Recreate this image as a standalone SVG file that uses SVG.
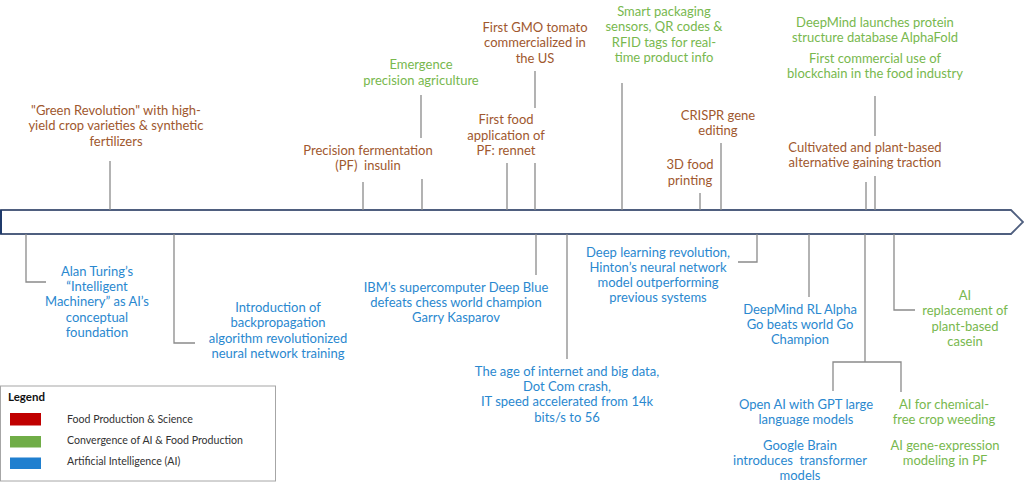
<svg xmlns="http://www.w3.org/2000/svg" width="1024" height="492" viewBox="0 0 1024 492">
<style>
text{font-family:Lato,"Liberation Sans",sans-serif;font-size:13px;text-anchor:middle}
.f{fill:#a0582e}
.c{fill:#78b84e}
.a{fill:#2a88cf}
.pre{white-space:pre}
.ln{fill:none;stroke:#8a8a8a;stroke-width:1.3}
.lg{font-size:10.6px;fill:#333;text-anchor:start}
</style>
<rect width="1024" height="492" fill="#fff"/>
<g id="timeline">
<polygon points="1,210 1011,210 1023,222 1011,234 1,234" fill="#fff" stroke="#4f5f7f" stroke-width="1.8"/>
<line x1="1" y1="210" x2="1" y2="234" stroke="#1f3a6b" stroke-width="2"/>
</g>
<g id="connectors">
<path class="ln" d="M110 161V210"/>
<path class="ln" d="M363 182V210"/>
<path class="ln" d="M421 95V138M422 179V210"/>
<path class="ln" d="M507 163V210"/>
<path class="ln" d="M535 71V108M535 163V210"/>
<path class="ln" d="M622 83V210"/>
<path class="ln" d="M700 193V210"/>
<path class="ln" d="M721 143V210"/>
<path class="ln" d="M866 182V210"/>
<path class="ln" d="M875 96V136M875 176V210"/>
<path class="ln" d="M26 234V282H46"/>
<path class="ln" d="M174 234V343H195"/>
<path class="ln" d="M536 234V275"/>
<path class="ln" d="M567 234V359"/>
<path class="ln" d="M757 234V262H738"/>
<path class="ln" d="M809 234V297"/>
<path class="ln" d="M865 234V362M833 391V362H901V392"/>
<path class="ln" d="M894 234V310H915"/>
</g>
<g id="green-revolution"><text class="f"><tspan x="116" y="115">"Green Revolution" with high-</tspan><tspan x="116" y="130">yield crop varieties &amp; synthetic</tspan><tspan x="116" y="145.5">fertilizers</tspan></text></g>
<g id="pf-insulin"><text class="f pre"><tspan x="368" y="155">Precision fermentation</tspan><tspan x="368" y="170">(PF)  insulin</tspan></text></g>
<g id="precision-agriculture"><text class="c"><tspan x="421" y="69">Emergence</tspan><tspan x="421" y="84.5">precision agriculture</tspan></text></g>
<g id="rennet"><text class="f"><tspan x="506" y="124">First food</tspan><tspan x="506" y="139.5">application of</tspan><tspan x="506" y="155">PF: rennet</tspan></text></g>
<g id="gmo-tomato"><text class="f"><tspan x="535" y="32">First GMO tomato</tspan><tspan x="535" y="47">commercialized in</tspan><tspan x="535" y="63">the US</tspan></text></g>
<g id="smart-packaging"><text class="c"><tspan x="664" y="16">Smart packaging</tspan><tspan x="664" y="31">sensors, QR codes &amp;</tspan><tspan x="664" y="46.5">RFID tags for real-</tspan><tspan x="664" y="62">time product info</tspan></text></g>
<g id="printing"><text class="f"><tspan x="690" y="169">3D food</tspan><tspan x="690" y="184.5">printing</tspan></text></g>
<g id="crispr"><text class="f"><tspan x="718" y="120">CRISPR gene</tspan><tspan x="718" y="134.5">editing</tspan></text></g>
<g id="cultivated"><text class="f"><tspan x="865" y="151.5">Cultivated and plant-based</tspan><tspan x="865" y="167">alternative gaining traction</tspan></text></g>
<g id="alphafold"><text class="c"><tspan x="875" y="27">DeepMind launches protein</tspan><tspan x="875" y="42">structure database AlphaFold</tspan></text></g>
<g id="blockchain"><text class="c"><tspan x="875" y="63">First commercial use of</tspan><tspan x="875" y="78">blockchain in the food industry</tspan></text></g>
<g id="turing"><text class="a"><tspan x="97" y="275.5">Alan Turing’s</tspan><tspan x="97" y="290.5">“Intelligent</tspan><tspan x="97" y="306">Machinery” as AI’s</tspan><tspan x="97" y="321.5">conceptual</tspan><tspan x="97" y="336.5">foundation</tspan></text></g>
<g id="backprop"><text class="a"><tspan x="278" y="311.5">Introduction of</tspan><tspan x="278" y="327">backpropagation</tspan><tspan x="278" y="342.5">algorithm revolutionized</tspan><tspan x="278" y="358">neural network training</tspan></text></g>
<g id="deep-blue"><text class="a"><tspan x="456" y="292">IBM’s supercomputer Deep Blue</tspan><tspan x="456" y="306.5">defeats chess world champion</tspan><tspan x="456" y="322">Garry Kasparov</tspan></text></g>
<g id="internet"><text class="a"><tspan x="567" y="375.5">The age of internet and big data,</tspan><tspan x="567" y="390.5">Dot Com crash,</tspan><tspan x="567" y="406">IT speed accelerated from 14k</tspan><tspan x="567" y="421.5">bits/s to 56</tspan></text></g>
<g id="deep-learning"><text class="a"><tspan x="658" y="256.5">Deep learning revolution,</tspan><tspan x="658" y="271.5">Hinton’s neural network</tspan><tspan x="658" y="286.5">model outperforming</tspan><tspan x="658" y="302">previous systems</tspan></text></g>
<g id="alphago"><text class="a"><tspan x="800" y="313.5">DeepMind RL Alpha</tspan><tspan x="800" y="328.5">Go beats world Go</tspan><tspan x="800" y="343.5">Champion</tspan></text></g>
<g id="casein"><text class="c"><tspan x="965" y="300">AI</tspan><tspan x="965" y="315">replacement of</tspan><tspan x="965" y="330.5">plant-based</tspan><tspan x="965" y="345.5">casein</tspan></text></g>
<g id="gpt"><text class="a"><tspan x="806" y="408.5">Open AI with GPT large</tspan><tspan x="806" y="423.5">language models</tspan></text></g>
<g id="transformer"><text class="a pre"><tspan x="800" y="449.5">Google Brain</tspan><tspan x="800" y="464.5">introduces  transformer</tspan><tspan x="800" y="480">models</tspan></text></g>
<g id="weeding"><text class="c"><tspan x="944" y="408.5">AI for chemical-</tspan><tspan x="944" y="424">free crop weeding</tspan></text></g>
<g id="gene-expression"><text class="c"><tspan x="945" y="449.5">AI gene-expression</tspan><tspan x="945" y="464.5">modeling in PF</tspan></text></g>
<g id="legend">
<rect x="0.5" y="386" width="275" height="95" fill="#fff" stroke="#a6a6a6" stroke-width="1"/>
<text x="8" y="401" style="font-size:11.5px;font-weight:bold;fill:#111;text-anchor:start">Legend</text>
<rect x="10" y="413" width="31" height="12.5" fill="#c00000"/>
<rect x="10" y="436" width="31" height="11.5" fill="#70ad47"/>
<rect x="10" y="457.5" width="31" height="11.5" fill="#1f7fcf"/>
<text class="lg" x="67" y="422.5">Food Production &amp; Science</text>
<text class="lg" x="67" y="444">Convergence of AI &amp; Food Production</text>
<text class="lg" x="67" y="465">Artificial Intelligence (AI)</text>
</g>
</svg>
